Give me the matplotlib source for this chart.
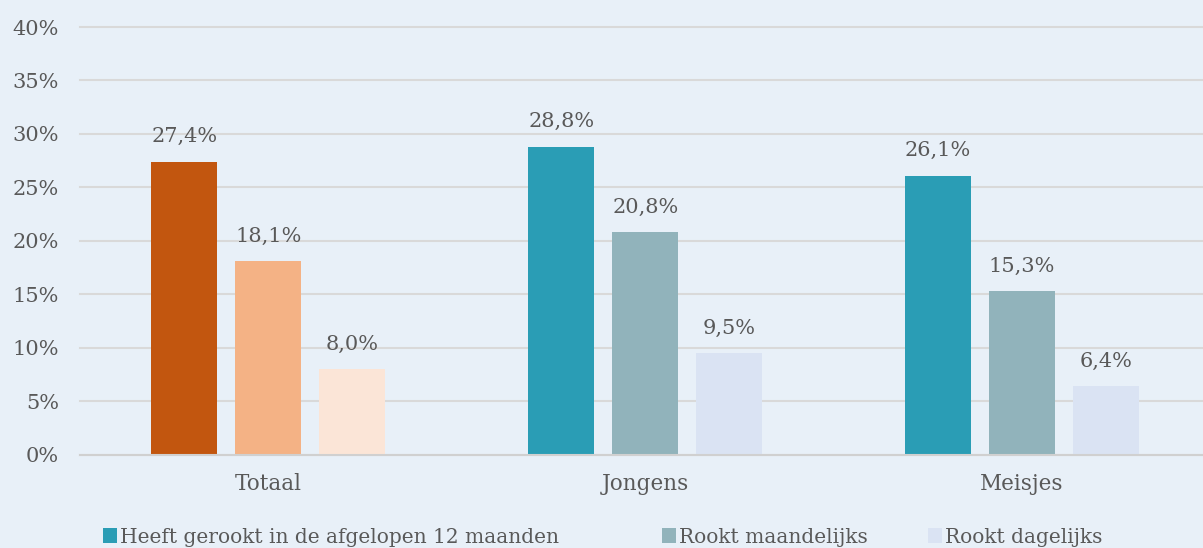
import matplotlib.pyplot as plt
import numpy as np
from matplotlib.patches import Patch

categories = ["Totaal", "Jongens", "Meisjes"]
series_names = ["Heeft gerookt in de afgelopen 12 maanden", "Rookt maandelijks", "Rookt dagelijks"]
values = [
    [27.4, 28.8, 26.1],   # afgelopen 12 maanden
    [18.1, 20.8, 15.3],   # maandelijks
    [8.0, 9.5, 6.4],      # dagelijks
]
yticks = [0, 5, 10, 15, 20, 25, 30, 35, 40]

# Totaal uses orange tones, the boys/girls groups use blue tones
orange = ["#C2560F", "#F4B285", "#FBE5D7"]
blue = ["#2A9DB5", "#91B3BB", "#DAE3F3"]

bg = "#E8F0F8"
text_col = "#595959"
plt.rcParams['font.family'] = ['DejaVu Serif']

fig = plt.figure(figsize=(12.03, 5.48), dpi=100, facecolor=bg)
ax = fig.add_axes([0.0665, 0.170, 0.9335, 0.7807], facecolor=bg)

x = np.arange(len(categories))
width = 0.175
step = 0.223

for s in range(3):
    for c in range(len(categories)):
        col = orange[s] if c == 0 else blue[s]
        xpos = x[c] + (s - 1) * step
        v = values[s][c]
        ax.bar(xpos, v, width=width, color=col, zorder=3)
        ax.text(xpos, v + 1.45, f"{v:.1f}".replace(".", ",") + "%", ha='center', va='bottom',
                fontsize=15, color=text_col, zorder=4)

ax.set_ylim(0, 40)
ax.set_xlim(-0.5, 2.48)
ax.set_yticks(yticks)
ax.set_yticklabels([f"{t}%" for t in yticks], fontsize=15, color=text_col)
ax.set_xticks(x)
ax.set_xticklabels(categories, fontsize=15.5, color=text_col)
ax.tick_params(axis='both', length=0)
ax.tick_params(axis='y', pad=15)
ax.tick_params(axis='x', pad=13)

ax.yaxis.grid(True, color="#D9D9D9", linewidth=1.5, zorder=0)
for gl in ax.get_ygridlines():
    gl.set_clip_on(False)
ax.set_axisbelow(True)
for side in ['top', 'right', 'left']:
    ax.spines[side].set_visible(False)
ax.spines['bottom'].set_color("#D0D0D0")
ax.spines['bottom'].set_linewidth(1.5)
ax.spines['bottom'].set_zorder(5)

# legend entries placed one by one, like the uneven spacing in the original
legend_x = [0.0856, 0.5503, 0.7714]
for i in range(3):
    lg = fig.legend([Patch(facecolor=blue[i])], [series_names[i]], loc='center left',
                    bbox_to_anchor=(legend_x[i], 0.020), frameon=False, fontsize=14.5,
                    handlelength=0.7, handleheight=0.7, handletextpad=0.15,
                    borderpad=0, borderaxespad=0, labelcolor=text_col)

fig.savefig("out.png", dpi=100, facecolor=bg)
